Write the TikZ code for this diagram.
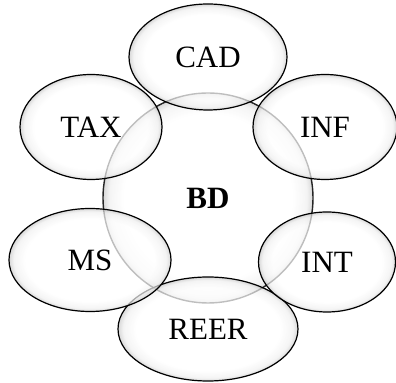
\documentclass[tikz,border=0pt]{standalone}
\usepackage{fontspec}
\setmainfont{Liberation Serif}
\usetikzlibrary{shapes.geometric}
\pgfdeclareradialshading{glow}{\pgfpoint{0bp}{0bp}}{color(0bp)=(white); color(20bp)=(white); color(23.5bp)=(black!6); color(25bp)=(black!22); color(50bp)=(black!22)}
\begin{document}
\begin{tikzpicture}
  [x=0.5pt,y=-0.5pt,
   every node/.style={draw=black,line width=0.6pt,shade,shading=glow,
     fill opacity=0.7,text opacity=1,inner sep=0pt,
     font=\fontsize{15.5}{18}\selectfont},
   core/.style={circle,minimum size=105pt,draw=black!85,line width=0.7pt},
   field/.style={ellipse}]
  \useasboundingbox (0,0) rectangle (396,383);
  \node[core] (BD) at (208,198) {\textbf{BD}};
  \node[field,minimum width=90pt,minimum height=52pt] (REER) at (208,329) {REER};
  \node[field,minimum width=79pt,minimum height=53pt] (CAD) at (208,57) {CAD};
  \node[field,minimum width=71pt,minimum height=52.5pt] (TAX) at (91,127) {TAX};
  \node[field,minimum width=72pt,minimum height=52.5pt] (INF) at (325,127) {INF};
  \node[field,minimum width=81pt,minimum height=51.5pt] (MS) at (90,260) {MS};
  \node[field,minimum width=68.5pt,minimum height=50pt] (INT) at (327,262) {INT};
\end{tikzpicture}
\end{document}
